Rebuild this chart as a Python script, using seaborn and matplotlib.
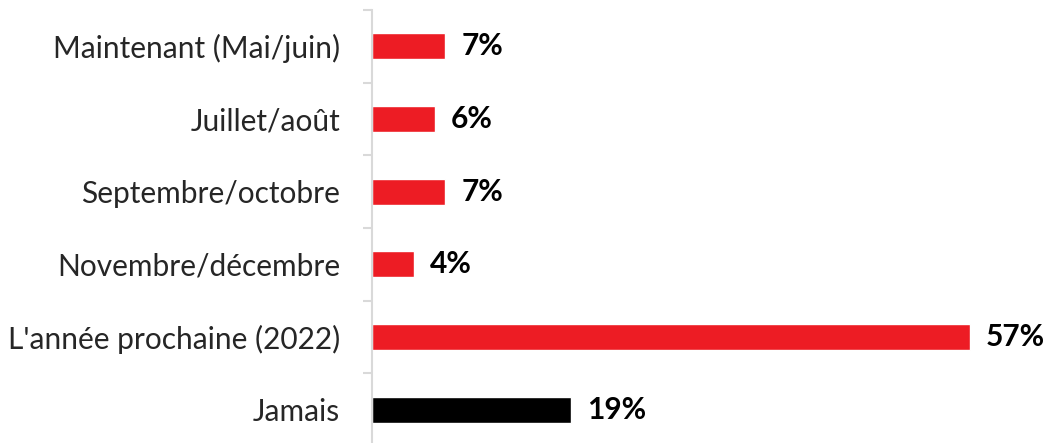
import matplotlib
matplotlib.use("Agg")
import matplotlib.pyplot as plt
from matplotlib.ticker import FixedLocator
import seaborn as sns

categories = ["Maintenant (Mai/juin)", "Juillet/août", "Septembre/octobre",
              "Novembre/décembre", "L'année prochaine (2022)", "Jamais"]
values = [7, 6, 7, 4, 57, 19]
colors = ["#ED1C24", "#ED1C24", "#ED1C24", "#ED1C24", "#ED1C24", "#000000"]

sns.set_style("white")
plt.rcParams["font.family"] = ["Lato", "DejaVu Sans"]

fig = plt.figure(figsize=(10.44, 4.43), dpi=100)
ax = fig.add_axes([372 / 1044, -3 / 443, 660 / 1044, 436 / 443])

sns.barplot(x=values, y=categories, hue=categories, palette=colors,
            legend=False, width=0.36, ax=ax, saturation=1)

ax.set_xlim(0, 660 / 10.49)
ax.set_ylim(5.5, -0.5)
ax.set_xlabel("")
ax.set_ylabel("")
ax.set_xticks([])

for s in ["top", "right", "bottom"]:
    ax.spines[s].set_visible(False)
ax.spines["left"].set_color("#D9D9D9")
ax.spines["left"].set_linewidth(1.5)

ax.tick_params(axis="y", which="major", left=False, length=0, labelsize=21.5, pad=23)
ax.yaxis.set_minor_locator(FixedLocator([i - 0.5 for i in range(7)]))
ax.tick_params(axis="y", which="minor", left=True, length=6.5, width=1.5, color="#D9D9D9")

for i, v in enumerate(values):
    ax.text(v + 1.5, i, f"{v}%", va="center", ha="left",
            fontsize=21.5, fontweight="bold", color="black")

fig.savefig("out.png", dpi=100)
